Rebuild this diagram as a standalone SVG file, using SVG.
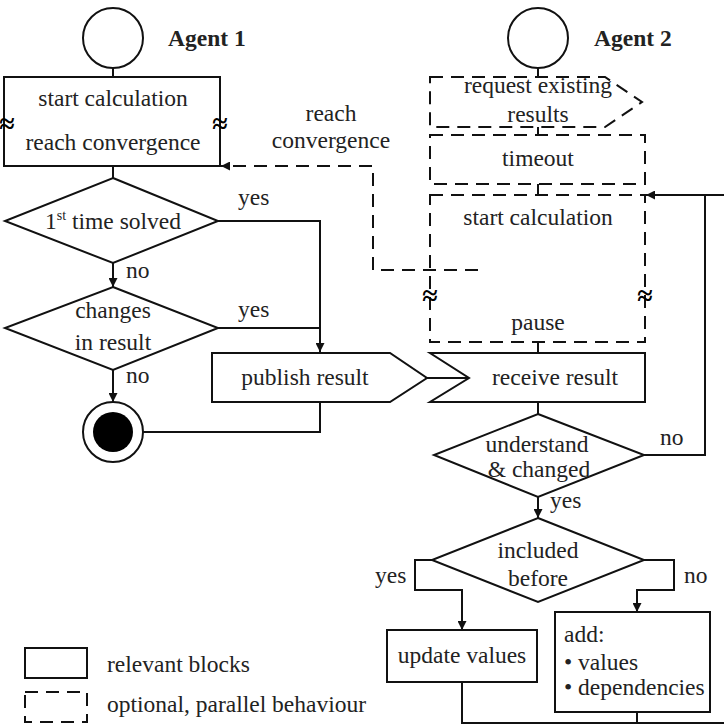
<svg xmlns="http://www.w3.org/2000/svg" width="724" height="726" viewBox="0 0 724 726">
<style>
.s{fill:#fff;stroke:#111;stroke-width:2}
.d{fill:none;stroke:#111;stroke-width:2;stroke-dasharray:13 8}
.l{fill:none;stroke:#111;stroke-width:2}
.ap{fill:none;stroke:#111;stroke-width:2;marker-end:url(#ah)}
.apd{fill:none;stroke:#111;stroke-width:2;stroke-dasharray:13 8;marker-end:url(#ah)}
</style>
<defs>
<marker id="ah" viewBox="0 0 10 10" refX="10" refY="5" markerWidth="9" markerHeight="9" orient="auto" markerUnits="userSpaceOnUse">
<path d="M0,0 L10,5 L0,10 z" fill="#111"/>
</marker>
</defs>
<rect width="724" height="726" fill="#fff"/>

<g id="connectors">
<line class="l" x1="113" y1="68" x2="113" y2="77"/>
<line class="l" x1="113" y1="166" x2="113" y2="178"/>
<line class="ap" x1="113" y1="263" x2="113" y2="287"/>
<line class="ap" x1="113" y1="370" x2="113" y2="402"/>
<polyline class="ap" points="218,221 320,221 320,352"/>
<line class="l" x1="218" y1="328" x2="320" y2="328"/>
<polyline class="l" points="143,432 320,432 320,402"/>
<polyline class="apd" points="478,270 373,270 373,166 221,166"/>
<line class="l" x1="538" y1="68" x2="538" y2="77"/>
<line class="l" x1="538" y1="127" x2="538" y2="135"/>
<line class="l" x1="538" y1="184" x2="538" y2="195"/>
<line class="l" x1="538" y1="342" x2="538" y2="352"/>
<line class="l" x1="427" y1="378" x2="469" y2="378"/>
<line class="l" x1="538" y1="402" x2="538" y2="414"/>
<polyline class="ap" points="724,195 646,195"/>
<polyline class="l" points="644,455 705,455 705,195"/>
<line class="ap" x1="538" y1="497" x2="538" y2="518"/>
<polyline class="ap" points="432,560 415,560 415,590 462,590 462,630"/>
<polyline class="ap" points="644,560 674,560 674,590 637,590 637,612"/>
<polyline class="l" points="462,682 462,723 724,723"/>
<line class="l" x1="637" y1="712" x2="637" y2="723"/>
</g>

<g id="agent1-start">
<circle class="s" cx="113" cy="38" r="30"/>
<text font-family="Liberation Serif" font-size="23.5" font-weight="bold" fill="#222" x="168" y="46">Agent 1</text>
</g>

<g id="calc1">
<rect class="s" x="4" y="77" width="216" height="89"/>
<text font-family="Liberation Serif" font-size="23.5" fill="#222" text-anchor="middle" x="113" y="106">start calculation</text>
<text font-family="Liberation Serif" font-size="23.5" fill="#222" text-anchor="middle" x="113" y="150">reach convergence</text>
<text font-family="Liberation Serif" font-size="28" font-weight="bold" fill="#000" text-anchor="middle" x="7" y="133">≈</text>
<text font-family="Liberation Serif" font-size="28" font-weight="bold" fill="#000" text-anchor="middle" x="220" y="133">≈</text>
</g>

<g id="first-solved">
<polygon class="s" points="113,178 218,221 113,263 5,221"/>
<text font-family="Liberation Serif" font-size="23.5" fill="#222" text-anchor="middle" x="113" y="229">1<tspan font-size="14" dy="-9">st</tspan><tspan dy="9"> time solved</tspan></text>
<text font-family="Liberation Serif" font-size="23.5" fill="#222" x="238" y="205">yes</text>
<text font-family="Liberation Serif" font-size="23.5" fill="#222" x="126" y="278">no</text>
</g>

<g id="changes">
<polygon class="s" points="113,287 218,328 113,370 5,328"/>
<text font-family="Liberation Serif" font-size="23.5" fill="#222" text-anchor="middle" x="113" y="318">changes</text>
<text font-family="Liberation Serif" font-size="23.5" fill="#222" text-anchor="middle" x="113" y="350">in result</text>
<text font-family="Liberation Serif" font-size="23.5" fill="#222" x="238" y="317">yes</text>
<text font-family="Liberation Serif" font-size="23.5" fill="#222" x="126" y="383">no</text>
</g>

<g id="end1">
<circle class="s" cx="113" cy="432" r="30"/>
<circle cx="113" cy="432" r="20" fill="#000"/>
</g>

<g id="publish">
<polygon class="s" points="212,353 390,353 427,378 390,402 212,402"/>
<text font-family="Liberation Serif" font-size="23.5" fill="#222" text-anchor="middle" x="305" y="385">publish result</text>
</g>

<g id="reach-label">
<text font-family="Liberation Serif" font-size="23.5" fill="#222" text-anchor="middle" x="331" y="121">reach</text>
<text font-family="Liberation Serif" font-size="23.5" fill="#222" text-anchor="middle" x="331" y="148">convergence</text>
</g>

<g id="agent2-start">
<circle class="s" cx="538" cy="38" r="30"/>
<text font-family="Liberation Serif" font-size="23.5" font-weight="bold" fill="#222" x="594" y="46">Agent 2</text>
</g>

<g id="request">
<polygon class="d" points="430,77 605,77 642,102 605,127 430,127"/>
<text font-family="Liberation Serif" font-size="23.5" fill="#222" text-anchor="middle" x="538" y="93">request existing</text>
<text font-family="Liberation Serif" font-size="23.5" fill="#222" text-anchor="middle" x="538" y="122">results</text>
</g>

<g id="timeout">
<rect class="d" x="430" y="135" width="215" height="49"/>
<text font-family="Liberation Serif" font-size="23.5" fill="#222" text-anchor="middle" x="538" y="166">timeout</text>
</g>

<g id="calc2">
<rect class="d" x="430" y="195" width="215" height="147"/>
<text font-family="Liberation Serif" font-size="23.5" fill="#222" text-anchor="middle" x="538" y="225">start calculation</text>
<text font-family="Liberation Serif" font-size="23.5" fill="#222" text-anchor="middle" x="538" y="330">pause</text>
<text font-family="Liberation Serif" font-size="28" font-weight="bold" fill="#000" text-anchor="middle" x="430" y="305">≈</text>
<text font-family="Liberation Serif" font-size="28" font-weight="bold" fill="#000" text-anchor="middle" x="645" y="305">≈</text>
</g>

<g id="receive">
<polygon class="s" points="430,353 645,353 645,402 430,402 469,378"/>
<text font-family="Liberation Serif" font-size="23.5" fill="#222" text-anchor="middle" x="555" y="385">receive result</text>
</g>

<g id="understand">
<polygon class="s" points="538,414 644,455 538,497 434,455"/>
<text font-family="Liberation Serif" font-size="23.5" fill="#222" text-anchor="middle" x="537" y="452">understand</text>
<text font-family="Liberation Serif" font-size="23.5" fill="#222" text-anchor="middle" x="539" y="477">&amp; changed</text>
<text font-family="Liberation Serif" font-size="23.5" fill="#222" x="660" y="445">no</text>
<text font-family="Liberation Serif" font-size="23.5" fill="#222" x="550" y="508">yes</text>
</g>

<g id="included">
<polygon class="s" points="538,518 644,560 538,602 432,560"/>
<text font-family="Liberation Serif" font-size="23.5" fill="#222" text-anchor="middle" x="538" y="558">included</text>
<text font-family="Liberation Serif" font-size="23.5" fill="#222" text-anchor="middle" x="538" y="586">before</text>
<text font-family="Liberation Serif" font-size="23.5" fill="#222" x="375" y="583">yes</text>
<text font-family="Liberation Serif" font-size="23.5" fill="#222" x="684" y="583">no</text>
</g>

<g id="update">
<rect class="s" x="387" y="630" width="150" height="52"/>
<text font-family="Liberation Serif" font-size="23.5" fill="#222" text-anchor="middle" x="462" y="663">update values</text>
</g>

<g id="add">
<rect class="s" x="555" y="612" width="155" height="100"/>
<text font-family="Liberation Serif" font-size="23.5" fill="#222" x="564" y="642">add:</text>
<text font-family="Liberation Serif" font-size="23.5" fill="#222" x="564" y="670">• values</text>
<text font-family="Liberation Serif" font-size="23.5" fill="#222" x="564" y="695">• dependencies</text>
</g>

<g id="legend">
<rect class="s" x="25" y="648" width="62" height="30"/>
<text font-family="Liberation Serif" font-size="23.5" fill="#222" x="107" y="672">relevant blocks</text>
<rect class="d" x="25" y="692" width="62" height="30"/>
<text font-family="Liberation Serif" font-size="23.5" fill="#222" x="107" y="712">optional, parallel behaviour</text>
</g>
</svg>
